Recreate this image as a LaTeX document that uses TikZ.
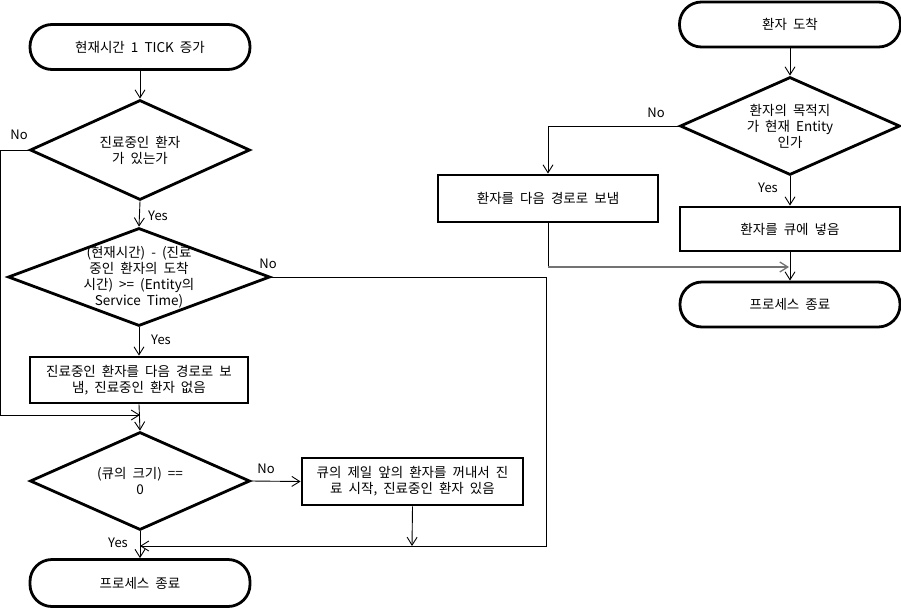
\documentclass[tikz,border=0pt]{standalone}
\usepackage{fontspec}
\setmainfont{Noto Sans CJK KR}[WordSpace=2]
\usetikzlibrary{shapes.geometric,arrows.meta}
\tikzset{
  txt/.style={font=\fontsize{13.5}{16}\selectfont, align=center, inner sep=0pt},
  base/.style={txt, draw=black, line width=2.8pt},
  term/.style={base, rectangle, rounded corners=22pt, minimum width=220pt, minimum height=45pt},
  proc/.style={base, rectangle, minimum width=220pt, minimum height=46pt},
  dec/.style={base, diamond, minimum width=220pt, minimum height=98pt},
  conn/.style={line width=0.9pt, -{Straight Barb[length=8pt,width=10pt]}},
  plainln/.style={line width=0.9pt},
  lbl/.style={font=\fontsize{13}{16}\selectfont, inner sep=0pt},
}
\begin{document}
\begin{tikzpicture}[x=1pt,y=-1pt]
\useasboundingbox (0,0) rectangle (901,608);
% ---------- left flow ----------
\node[term] (t1) at (140,47) {현재시간 1 TICK 증가};
\node[dec, label={[txt]center:{진료중인 환자\\가 있는가}}] (d1) at (140,150) [minimum height=100pt] {};
\node[dec, minimum width=262pt, label={[txt]center:{(현재시간) - (진료\\중인 환자의 도착\\시간) >= (Entity의\\Service Time)}}] (d2) at (139,277) {};
\node[proc, minimum width=218pt] (b1) at (139,380) {진료중인 환자를 다음 경로로 보\\냄, 진료중인 환자 없음};
\node[dec, label={[txt]center:{(큐의 크기) ==\\0}}] (d3) at (140,481) {};
\node[proc, minimum width=221pt, minimum height=47pt] (b2) at (412.5,481.5) {큐의 제일 앞의 환자를 꺼내서 진\\료 시작, 진료중인 환자 있음};
\node[term, minimum height=47pt] (t2) at (140,583) {프로세스 종료};
\coordinate (m1) at (140,415);
\coordinate (m2) at (140,546);
\coordinate (m2b) at (412,546);

\draw[conn] (t1.south) -- (d1.north);
\draw[conn] (d1.south) -- (d2.north);
\draw[conn] (d2.south) -- (b1.north);
\draw[conn] (b1.south) -- (d3.north);
\draw[conn] (d1.west) -- ++(-28,0) |- (m1);
\draw[conn] (d2.east) -- ++(275,0) |- (m2);
\draw[conn] (d3.east) -- (b2.west);
\draw[conn] (b2.south) -- (m2b);
\draw[conn] (d3.south) -- (t2.north);

\node[lbl] (n1) at (19,135) {No};
\node[lbl] (y1) at (158,216) {Yes};
\node[lbl] (n2) at (268,264) {No};
\node[lbl] (y2) at (161,340) {Yes};
\node[lbl] (n3) at (266,469) {No};
\node[lbl] (y3) at (118,543) {Yes};

% ---------- right flow ----------
\node[term, minimum width=221pt] (r1) at (790,24.5) {환자 도착};
\node[dec, label={[txt]center:{환자의 목적지\\가 현재 Entity\\인가}}] (rd) at (790,126) {};
\node[proc, minimum height=47pt] (rb1) at (548,198.5) {환자를 다음 경로로 보냄};
\node[proc, minimum height=44pt] (rb2) at (790,229) {환자를 큐에 넣음};
\node[term] (rt) at (790,304.5) {프로세스 종료};
\coordinate (m3) at (789,267);

\draw[conn] (r1.south) -- (rd.north);
\draw[conn] (rd.west) -| (rb1.north);
\draw[conn] (rd.south) -- (rb2.north);
\draw[conn] (rb2.south) -- (rt.north);
\draw[plainln] (rb1.south) -- (rb1.south |- m3);
\draw[conn, draw=black!55, line width=1.3pt] (rb1.south |- m3) -- (m3);

\node[lbl] (n4) at (656,113) {No};
\node[lbl] (y4) at (768,188) {Yes};
\end{tikzpicture}
\end{document}
